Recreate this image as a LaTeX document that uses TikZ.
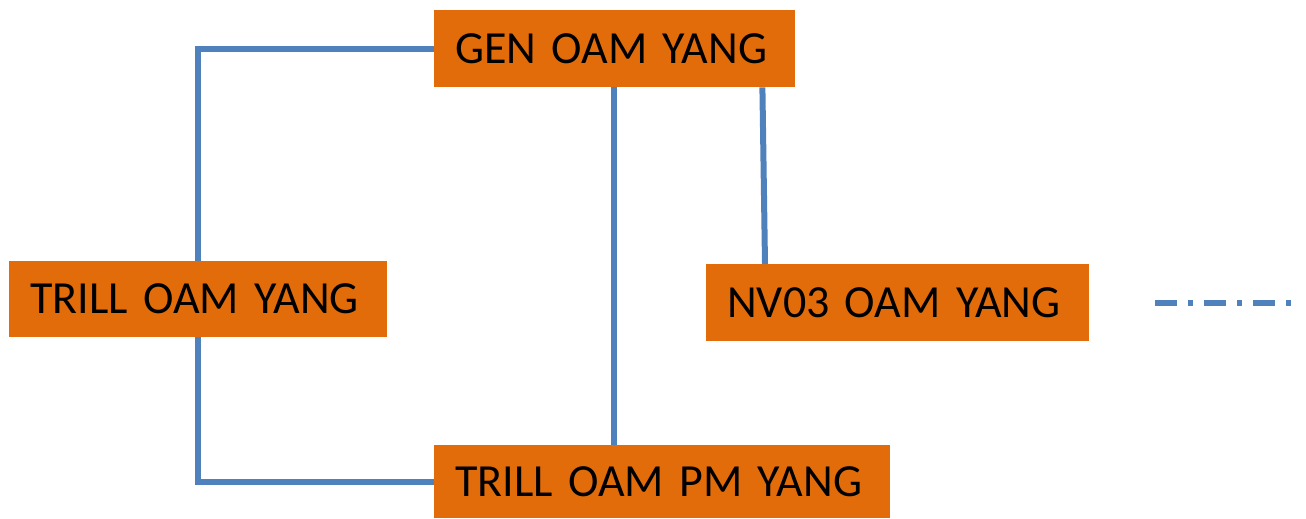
\documentclass[tikz,border=0pt]{standalone}
\usepackage{fontspec}
\setmainfont{Carlito}
\definecolor{yangorange}{HTML}{E36C0A}
\definecolor{linkblue}{HTML}{4F81BD}
\tikzset{
    yang-box/.style = {fill=yangorange, rectangle, anchor=north west, inner xsep=21pt, inner ysep=0pt, align=left, font=\fontsize{46}{52}\selectfont},
    yang-link/.style = {draw=linkblue, line width=6pt},
}
\begin{document}
\begin{tikzpicture}[x=1pt,y=-1pt]
\useasboundingbox (0,0) rectangle (1306,519);
\node [yang-box, text width=319pt, minimum height=77pt] (gen) at (434,10) {GEN OAM YANG};
\node [yang-box, text width=336pt, minimum height=76pt] (trill) at (9,261) {TRILL OAM YANG};
\node [yang-box, text width=341pt, minimum height=77pt] (nvo) at (706,264) {NV03 OAM YANG};
\node [yang-box, text width=414pt, minimum height=73pt] (pm) at (434,445) {TRILL OAM PM YANG};
\coordinate (dashstart) at (1155,303);
\coordinate (dashend) at (1296,303);
% links
\draw [yang-link] (gen.west) -| (trill.north);
\draw [yang-link] (trill.south) |- (pm.west);
\draw [yang-link] ([xshift=180pt]gen.south west) -- ([xshift=180pt]pm.north west);
\draw [yang-link] ([xshift=-33pt]gen.south east) -- ([xshift=59pt]nvo.north west);
\draw [yang-link, dash pattern=on 22pt off 11pt on 5pt off 11pt] (dashstart) -- (dashend);
\end{tikzpicture}
\end{document}
